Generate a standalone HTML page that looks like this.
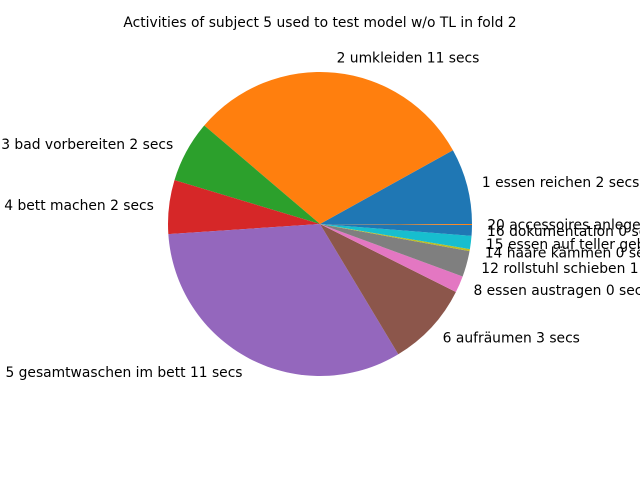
<!DOCTYPE html>
<html><head><meta charset="utf-8"><style>
body{margin:0;background:#fff;overflow:hidden}
svg{display:block;font-family:"DejaVu Sans","Liberation Sans",sans-serif}
</style></head><body>
<svg id="chart" width="640" height="480">
<rect width="640" height="480" fill="#fff"/>
<text x="320" y="27" text-anchor="middle" font-size="13.85" fill="#000">Activities of subject 5 used to test model w/o TL in fold 2</text>
<g id="slices"></g><g id="labels"></g>
</svg>
<script>
const categories = ["1 essen reichen 2 secs","2 umkleiden 11 secs","3 bad vorbereiten 2 secs","4 bett machen 2 secs","5 gesamtwaschen im bett 11 secs","6 aufräumen 3 secs","8 essen austragen 0 secs","12 rollstuhl schieben 1 secs","14 haare kämmen 0 secs","15 essen auf teller geben 0 secs","16 dokumentation 0 secs","20 accessoires anlegen 0 secs"];
const values = [29, 110.6, 23.6, 20.6, 117.2, 32.4, 6.4, 9.9, 0.8, 5, 4.1, 0.4];
const colors = ["#1f77b4","#ff7f0e","#2ca02c","#d62728","#9467bd","#8c564b","#e377c2","#7f7f7f","#bcbd22","#17becf","#1f77b4","#ff7f0e"];
const cx=320, cy=224, R=152;
const NS="http://www.w3.org/2000/svg";
const total=values.reduce((a,b)=>a+b,0);
const gS=document.getElementById('slices'), gL=document.getElementById('labels');
let a0=0;
values.forEach((v,i)=>{
  const a1=a0+v/total*2*Math.PI;
  const x0=cx+R*Math.cos(a0), y0=cy-R*Math.sin(a0);
  const x1=cx+R*Math.cos(a1), y1=cy-R*Math.sin(a1);
  const large=(a1-a0)>Math.PI?1:0;
  const p=document.createElementNS(NS,'path');
  p.setAttribute('d',`M${cx},${cy} L${x0},${y0} A${R},${R} 0 ${large} 0 ${x1},${y1} Z`);
  p.setAttribute('fill',colors[i]);
  
  
  gS.appendChild(p);
  const m=(a0+a1)/2;
  const lx=cx+1.1*R*Math.cos(m), ly=cy-1.1*R*Math.sin(m);
  const t=document.createElementNS(NS,'text');
  t.setAttribute('x',lx);t.setAttribute('y',ly+4.8);
  t.setAttribute('font-size','13.85');
  t.setAttribute('text-anchor',Math.cos(m)>=0?'start':'end');
  t.textContent=categories[i];
  
  
  gL.appendChild(t);
  a0=a1;
});
</script>
</body></html>
